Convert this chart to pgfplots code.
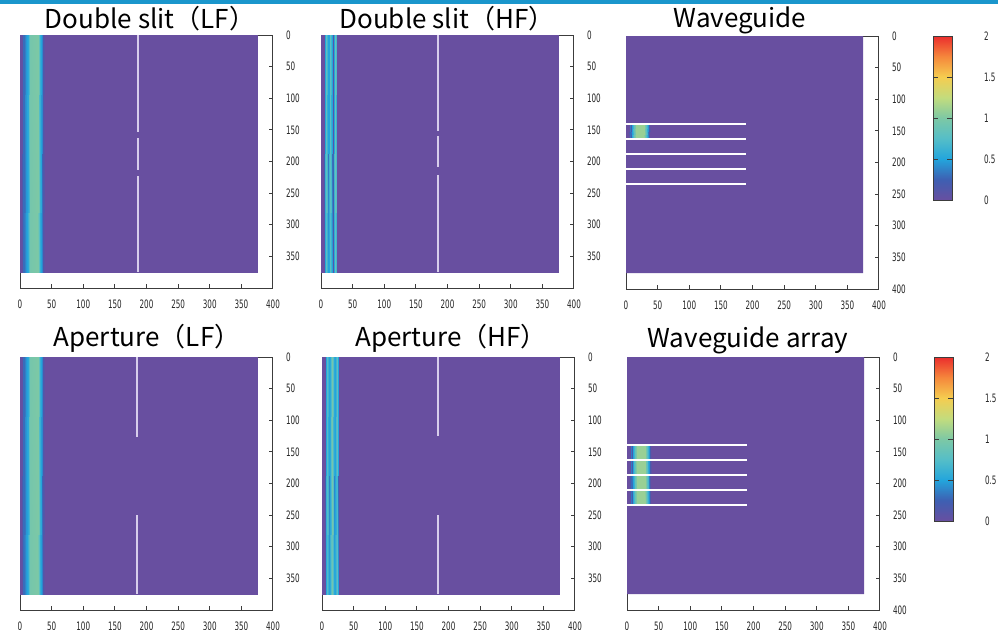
\documentclass[border=0pt]{standalone}
\usepackage{fontspec}
\usepackage{pgfplots}
\usepackage{pgfplotstable}
\pgfplotsset{compat=1.18}
\newfontfamily\titlefont{Noto Sans CJK JP}
\newfontfamily\tickfont[FakeStretch=0.62]{DejaVu Sans}
\definecolor{bgpurple}{RGB}{104,79,160}
\definecolor{slidebar}{RGB}{26,150,204}
\definecolor{framegray}{RGB}{60,60,60}
\definecolor{wallwhite}{RGB}{215,205,235}

% field profiles across x (two rows in y: the field does not change along y)
\pgfplotstableread{
x y c
0 0 0
3 0 0.05
4 0 0.3
7 0 0.3
10 0 0.45
13 0 0.55
16 0 0.95
29 0 1.0
32 0 0.6
35 0 0.4
37 0 0.15
39 0 0
375 0 0
0 375 0
3 375 0.05
4 375 0.3
7 375 0.3
10 375 0.45
13 375 0.55
16 375 0.95
29 375 1.0
32 375 0.6
35 375 0.4
37 375 0.15
39 375 0
375 375 0
}\lfband

\pgfplotstableread{
x y c
0 0 0
5 0 0
6 0 0.5
8.5 0 0.8
11 0 0.5
12 0 0.15
13 0 0.5
15 0 0.8
17 0 0.5
18.5 0 0.1
20 0 0.5
22.5 0 0.85
25 0 0.5
26 0 0
375 0 0
0 375 0
5 375 0
6 375 0.5
8.5 375 0.8
11 375 0.5
12 375 0.15
13 375 0.5
15 375 0.8
17 375 0.5
18.5 375 0.1
20 375 0.5
22.5 375 0.85
25 375 0.5
26 375 0
375 375 0
}\hfband

\pgfplotstableread{
x y c
0 0 0
5 0 0
6 0 0.5
8.5 0 0.75
11 0 0.5
12 0 0.2
13 0 0.55
16 0 0.95
19 0 0.55
20 0 0.2
21 0 0.5
23.5 0 0.8
26 0 0.5
27 0 0
375 0 0
0 375 0
5 375 0
6 375 0.5
8.5 375 0.75
11 375 0.5
12 375 0.2
13 375 0.55
16 375 0.95
19 375 0.55
20 375 0.2
21 375 0.5
23.5 375 0.8
26 375 0.5
27 375 0
375 375 0
}\aphfband

\pgfplotstableread{
x y c
5 141 0
7 141 0.35
8.5 141 0.2
10 141 0.5
13 141 0.85
16 141 1.1
28 141 1.1
31 141 0.8
34 141 0.45
36 141 0.2
38 141 0
5 161 0
7 161 0.35
8.5 161 0.2
10 161 0.5
13 161 0.85
16 161 1.1
28 161 1.1
31 161 0.8
34 161 0.45
36 161 0.2
38 161 0
}\wgspot

\pgfplotstableread{
x y c
5 141 0
7 141 0.35
8.5 141 0.2
10 141 0.5
13 141 0.85
16 141 1.1
28 141 1.1
31 141 0.8
34 141 0.45
36 141 0.2
38 141 0
5 233 0
7 233 0.35
8.5 233 0.2
10 233 0.5
13 233 0.85
16 233 1.1
28 233 1.1
31 233 0.8
34 233 0.45
36 233 0.2
38 233 0
}\arrayspot

\pgfplotstableread{
x y
0 139.5
190 139.5
nan nan
0 163
190 163
nan nan
0 187
190 187
nan nan
0 211
190 211
nan nan
0 234.5
190 234.5
}\wgwalls

\pgfplotsset{
  panel/.style={
    scale only axis, width=126.5pt, height=126.5pt,
    xmin=0, xmax=400, ymin=0, ymax=400, y dir=reverse,
    xtick={0,50,...,400}, ytick={0,50,...,350},
    tick align=inside, xtick pos=left, ytick pos=right,
    xticklabel pos=left, yticklabel pos=right,
    major tick length=2pt,
    axis line style={framegray, line width=0.5pt},
    tick style={framegray, line width=0.5pt},
    ticklabel style={font=\tickfont\fontsize{5.8}{7}\selectfont, text=black!85},
    xticklabel style={yshift=-2.2pt},
    yticklabel style={xshift=3pt},
    /pgf/number format/assume math mode=true,
    colormap={slide}{rgb255(0cm)=(104,79,160); rgb255(1cm)=(62,95,178);
      rgb255(2cm)=(35,165,220); rgb255(3cm)=(85,190,200); rgb255(4cm)=(125,200,165);
      rgb255(5cm)=(195,220,125); rgb255(6cm)=(245,205,80); rgb255(7cm)=(245,135,60);
      rgb255(8cm)=(235,45,45)},
    point meta min=0, point meta max=2,
    anchor=south west,
    unbounded coords=jump,
  },
  bar/.style={
    colorbar right,
    colorbar style={
      at={(parent axis.north east)}, anchor=north west, xshift=18.5pt,
      scale only axis, width=9.5pt, height=82pt,
      ytick={0,0.5,1,1.5,2}, tick align=inside, major tick length=2.5pt,
      axis line style={framegray, line width=0.5pt},
      tick style={framegray, line width=0.5pt},
      ticklabel style={font=\tickfont\fontsize{5.8}{7}\selectfont, text=black!85},
      yticklabel style={xshift=12.5pt},
      /pgf/number format/assume math mode=true,
    },
  },
  wall/.style={draw=wallwhite, line width=1pt, forget plot},
  bg/.style={fill=bgpurple, draw=none, forget plot},
}

\begin{document}
\begin{tikzpicture}
\useasboundingbox (0,0) rectangle (499pt,-315pt);
\clip (0,0) rectangle (499pt,-315pt);
\fill[slidebar] (0,0) rectangle (499pt,-2.25pt);

% Double slit (LF)
\begin{axis}[panel, at={(10pt,-144pt)}]
\addplot[surf, shader=interp, mesh/cols=13, point meta=explicit] table[x=x, y=y, meta=c] {\lfband};
\addplot[wall] coordinates {(187,0) (187,154) (nan,nan) (187,163) (187,214) (nan,nan) (187,223) (187,375)};
\end{axis}

% Double slit (HF)
\begin{axis}[panel, at={(160.5pt,-144pt)}]
\addplot[surf, shader=interp, mesh/cols=15, point meta=explicit] table[x=x, y=y, meta=c] {\hfband};
\addplot[wall] coordinates {(185,0) (185,152) (nan,nan) (185,160) (185,209) (nan,nan) (185,222) (185,375)};
\end{axis}

% Waveguide
\begin{axis}[panel, bar, at={(313pt,-144.5pt)}, ytick={0,50,...,400}]
\addplot[bg] coordinates {(0,0) (375,0) (375,375) (0,375) (0,0)};
\addplot[surf, shader=interp, mesh/cols=11, point meta=explicit] table[x=x, y=y, meta=c] {\wgspot};
\addplot[wall, draw=white] table[x=x, y=y] {\wgwalls};
\end{axis}

% Aperture (LF)
\begin{axis}[panel, at={(10pt,-305pt)}]
\addplot[surf, shader=interp, mesh/cols=13, point meta=explicit] table[x=x, y=y, meta=c] {\lfband};
\addplot[wall] coordinates {(185,0) (185,127) (nan,nan) (185,250) (185,375)};
\end{axis}

% Aperture (HF)
\begin{axis}[panel, at={(161pt,-305pt)}]
\addplot[surf, shader=interp, mesh/cols=15, point meta=explicit] table[x=x, y=y, meta=c] {\aphfband};
\addplot[wall] coordinates {(184,0) (184,125) (nan,nan) (184,250) (184,375)};
\end{axis}

% Waveguide array
\begin{axis}[panel, bar, at={(313.5pt,-305pt)}, ytick={0,50,...,400}]
\addplot[bg] coordinates {(0,0) (375,0) (375,375) (0,375) (0,0)};
\addplot[surf, shader=interp, mesh/cols=11, point meta=explicit] table[x=x, y=y, meta=c] {\arrayspot};
\addplot[wall, draw=white] table[x=x, y=y] {\wgwalls};
\end{axis}

\begin{scope}[x=0.5pt, y=-0.5pt, font=\titlefont\fontsize{13}{15}\selectfont]
\node at (150,19) {Double slit（LF）};
\node at (447,19) {Double slit（HF）};
\node at (740,20) {Waveguide};
\node at (147,338) {Aperture（LF）};
\node at (451,338) {Aperture（HF）};
\node at (748,340) {Waveguide array};
\end{scope}
\end{tikzpicture}
\end{document}
